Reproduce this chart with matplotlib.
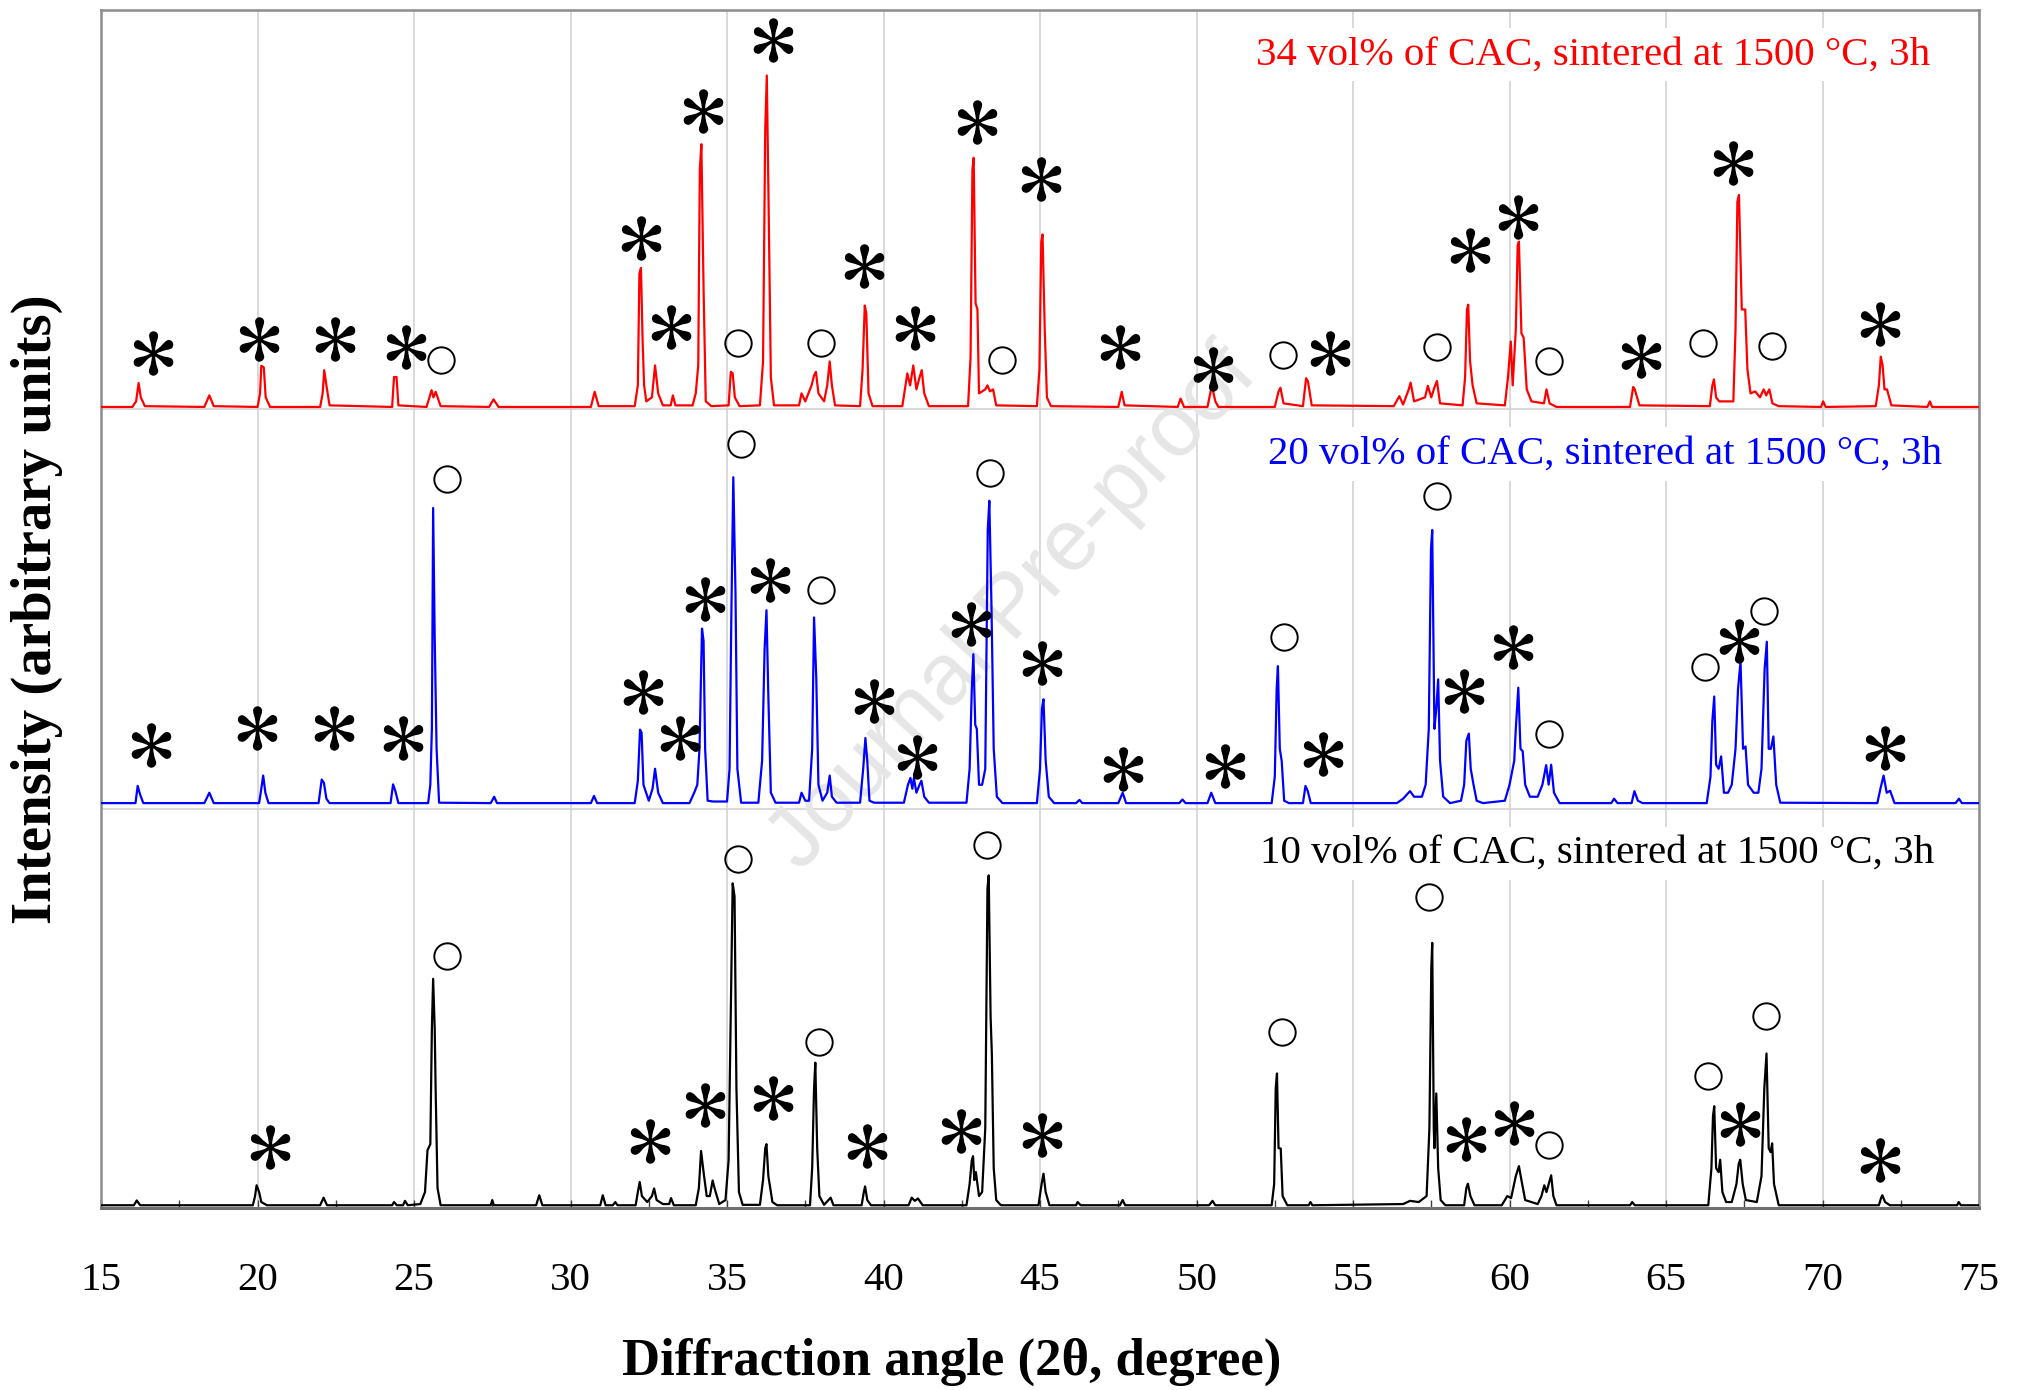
import numpy as np
import matplotlib
matplotlib.use('Agg')
import matplotlib.pyplot as plt

plt.rcParams['font.family'] = ['Liberation Serif', 'DejaVu Serif']
plt.rcParams['mathtext.fontset'] = 'stix'

# XRD patterns (2theta, intensity a.u.) — vertex lists for each sample
xrd_34 = np.array([
    (15.0, 6), (16.0, 6), (16.12, 20), (16.2, 66), (16.27, 30), (16.4, 8),
    (18.3, 6), (18.46, 35), (18.6, 8),
    (20.0, 6), (20.08, 40), (20.12, 109), (20.2, 105), (20.26, 30), (20.4, 6),
    (22.0, 6), (22.08, 40), (22.13, 98), (22.2, 60), (22.3, 10),
    (24.3, 6), (24.36, 81), (24.44, 81), (24.5, 10),
    (25.4, 6), (25.56, 48), (25.62, 30), (25.69, 44), (25.85, 8),
    (27.4, 6), (27.54, 25), (27.7, 6),
    (30.65, 6), (30.77, 44), (30.9, 8),
    (32.05, 8), (32.15, 60), (32.2, 340), (32.25, 354), (32.3, 178), (32.35, 60),
    (32.42, 20), (32.6, 30), (32.7, 110), (32.8, 40), (32.95, 10), (33.2, 10),
    (33.27, 35), (33.35, 10),
    (33.9, 10), (34.0, 40), (34.08, 110), (34.13, 600), (34.18, 664), (34.25, 300),
    (34.32, 20), (34.5, 8),
    (35.05, 10), (35.12, 94), (35.18, 90), (35.25, 30), (35.4, 8),
    (36.05, 10), (36.15, 120), (36.22, 700), (36.27, 836), (36.33, 500), (36.4, 80),
    (36.5, 10),
    (37.3, 10), (37.38, 40), (37.5, 20), (37.7, 60), (37.78, 85), (37.84, 94),
    (37.92, 40), (38.1, 20), (38.2, 60), (38.28, 120), (38.35, 60), (38.45, 10),
    (39.25, 8), (39.33, 100), (39.4, 260), (39.45, 240), (39.52, 40), (39.65, 8),
    (40.6, 8), (40.7, 60), (40.76, 90), (40.85, 60), (40.95, 110), (41.05, 50),
    (41.15, 80), (41.22, 98), (41.3, 40), (41.45, 8),
    (42.7, 8), (42.78, 130), (42.84, 600), (42.88, 630), (42.94, 266), (43.0, 250),
    (43.05, 40), (43.25, 50), (43.32, 60), (43.4, 45), (43.5, 50), (43.6, 10),
    (44.9, 8), (44.98, 100), (45.04, 420), (45.08, 438), (45.15, 200), (45.22, 30),
    (45.35, 8),
    (47.5, 6), (47.61, 44), (47.7, 10),
    (49.4, 6), (49.49, 27), (49.6, 6),
    (50.35, 6), (50.45, 45), (50.5, 56), (50.6, 20), (50.7, 6),
    (52.5, 6), (52.62, 45), (52.68, 54), (52.78, 15),
    (53.4, 8), (53.5, 78), (53.56, 70), (53.68, 10),
    (56.3, 8), (56.48, 33), (56.6, 12), (56.78, 50), (56.84, 67), (56.95, 20),
    (57.3, 30), (57.39, 59), (57.5, 30), (57.6, 55), (57.68, 71), (57.78, 15),
    (58.5, 10), (58.58, 80), (58.64, 250), (58.68, 262), (58.74, 120), (58.82, 60),
    (58.95, 15),
    (59.85, 10), (59.95, 80), (60.04, 170), (60.1, 60), (60.2, 200), (60.26, 410),
    (60.3, 420), (60.38, 190), (60.45, 180), (60.55, 50), (60.7, 20), (61.1, 15),
    (61.18, 50), (61.28, 15), (61.5, 6),
    (63.85, 6), (63.95, 56), (64.0, 50), (64.15, 10),
    (66.4, 8), (66.48, 60), (66.53, 75), (66.6, 30), (66.7, 20),
    (67.15, 20), (67.22, 200), (67.28, 520), (67.33, 537), (67.42, 250), (67.53, 250),
    (67.6, 100), (67.7, 40), (67.85, 45), (68.0, 30), (68.12, 50), (68.2, 35),
    (68.3, 50), (68.4, 15), (68.6, 8),
    (69.95, 6), (70.02, 20), (70.1, 6),
    (71.7, 8), (71.8, 60), (71.86, 132), (71.92, 110), (71.98, 50), (72.06, 50),
    (72.2, 10),
    (73.35, 6), (73.43, 20), (73.5, 6),
    (75.0, 6),
])

xrd_20 = np.array([
    (15.0, 14), (16.1, 14), (16.17, 57), (16.25, 35), (16.35, 14),
    (18.3, 14), (18.46, 40), (18.6, 14),
    (20.05, 14), (20.12, 50), (20.18, 83), (20.25, 40), (20.35, 14),
    (21.95, 14), (22.05, 73), (22.12, 65), (22.2, 25), (22.3, 14),
    (24.25, 14), (24.33, 61), (24.4, 45), (24.5, 14),
    (25.45, 14), (25.52, 60), (25.57, 200), (25.61, 753), (25.66, 430), (25.72, 150),
    (25.8, 15),
    (27.45, 14), (27.56, 30), (27.65, 14),
    (30.65, 14), (30.75, 32), (30.85, 14),
    (32.05, 14), (32.15, 70), (32.22, 198), (32.27, 190), (32.33, 60), (32.5, 20),
    (32.62, 50), (32.7, 100), (32.8, 40), (32.95, 14),
    (33.8, 14), (33.95, 40), (34.05, 60), (34.12, 150), (34.2, 451), (34.25, 420),
    (34.3, 150), (34.38, 20), (34.55, 18),
    (35.0, 18), (35.08, 100), (35.14, 500), (35.2, 830), (35.27, 540), (35.33, 100),
    (35.45, 15),
    (36.0, 15), (36.12, 120), (36.2, 400), (36.26, 497), (36.32, 280), (36.4, 40),
    (36.55, 15),
    (37.3, 15), (37.38, 40), (37.5, 20), (37.62, 20), (37.72, 150), (37.78, 479),
    (37.85, 330), (37.92, 60), (38.05, 20), (38.2, 40), (38.28, 83), (38.35, 30),
    (38.5, 15),
    (39.25, 15), (39.35, 100), (39.42, 177), (39.48, 120), (39.55, 20), (39.7, 15),
    (40.65, 15), (40.78, 60), (40.86, 77), (40.92, 50), (40.97, 77), (41.05, 40),
    (41.15, 60), (41.21, 70), (41.3, 30), (41.45, 15),
    (42.65, 15), (42.75, 100), (42.82, 300), (42.87, 387), (42.93, 210), (42.98, 200),
    (43.05, 60), (43.15, 60), (43.25, 100), (43.33, 700), (43.38, 771), (43.45, 500),
    (43.52, 150), (43.62, 30), (43.8, 14),
    (44.9, 14), (45.0, 100), (45.06, 250), (45.11, 274), (45.18, 120), (45.28, 30),
    (45.45, 14),
    (46.15, 14), (46.26, 22), (46.35, 14),
    (47.5, 14), (47.64, 40), (47.75, 14),
    (49.45, 14), (49.55, 23), (49.65, 14),
    (50.35, 14), (50.47, 40), (50.6, 14),
    (52.4, 14), (52.5, 80), (52.56, 300), (52.6, 357), (52.66, 150), (52.72, 120),
    (52.8, 20), (52.95, 14),
    (53.4, 14), (53.48, 57), (53.55, 45), (53.65, 14),
    (56.4, 14), (56.6, 25), (56.82, 44), (56.95, 30), (57.2, 30), (57.32, 60),
    (57.42, 200), (57.49, 650), (57.53, 698), (57.6, 200), (57.66, 250), (57.72, 324),
    (57.78, 120), (57.88, 30), (58.1, 14), (58.45, 20), (58.55, 60), (58.62, 170),
    (58.7, 188), (58.76, 100), (58.85, 60), (58.95, 20), (59.15, 14),
    (59.85, 20), (60.0, 60), (60.15, 120), (60.2, 200), (60.28, 303), (60.35, 150),
    (60.42, 144), (60.5, 60), (60.65, 30), (60.9, 30), (61.05, 60), (61.17, 109),
    (61.25, 60), (61.33, 110), (61.42, 40), (61.6, 14),
    (63.25, 14), (63.34, 25), (63.45, 14), (63.9, 14), (63.99, 44), (64.1, 20),
    (64.25, 14),
    (66.3, 14), (66.42, 80), (66.48, 220), (66.54, 281), (66.6, 110), (66.68, 100),
    (66.76, 131), (66.85, 40), (66.98, 40), (67.1, 60), (67.22, 150), (67.3, 300),
    (67.38, 368), (67.46, 150), (67.54, 156), (67.62, 60), (67.8, 40), (67.95, 40),
    (68.05, 100), (68.15, 350), (68.22, 418), (68.28, 150), (68.35, 150), (68.43, 181),
    (68.52, 60), (68.65, 15),
    (71.75, 14), (71.85, 50), (71.95, 83), (72.05, 40), (72.16, 45), (72.3, 14),
    (74.25, 14), (74.36, 25), (74.45, 14),
    (75.0, 14),
])

xrd_10 = np.array([
    (15.0, 7), (16.05, 7), (16.14, 19), (16.25, 7),
    (19.85, 7), (19.92, 30), (19.97, 57), (20.05, 40), (20.12, 15), (20.3, 7),
    (22.0, 7), (22.11, 26), (22.22, 7),
    (24.3, 7), (24.36, 15), (24.45, 7), (24.65, 7), (24.71, 18), (24.8, 7),
    (25.2, 10), (25.35, 40), (25.43, 145), (25.52, 160), (25.57, 450), (25.61, 574),
    (25.66, 450), (25.69, 295), (25.75, 50), (25.85, 7),
    (27.45, 7), (27.5, 20), (27.55, 7),
    (28.9, 7), (29.0, 32), (29.1, 7),
    (30.95, 7), (31.03, 32), (31.12, 7), (31.35, 7), (31.43, 15), (31.5, 7),
    (32.08, 7), (32.15, 40), (32.21, 65), (32.28, 30), (32.45, 15), (32.6, 30),
    (32.67, 49), (32.75, 20), (32.95, 10), (33.15, 10), (33.21, 25), (33.3, 7),
    (34.0, 7), (34.1, 50), (34.17, 143), (34.25, 90), (34.35, 30), (34.45, 30),
    (34.54, 69), (34.6, 50), (34.75, 10), (34.95, 20), (35.05, 120), (35.12, 500),
    (35.18, 813), (35.24, 780), (35.3, 300), (35.38, 40), (35.5, 8),
    (36.05, 8), (36.15, 70), (36.22, 150), (36.26, 160), (36.32, 80), (36.45, 15),
    (36.6, 7),
    (37.65, 7), (37.72, 100), (37.78, 300), (37.82, 364), (37.88, 150), (37.95, 30),
    (38.1, 8), (38.24, 20), (38.31, 26), (38.4, 7),
    (39.3, 7), (39.37, 40), (39.41, 54), (39.48, 20), (39.6, 7),
    (40.8, 7), (40.9, 26), (41.0, 18), (41.1, 24), (41.25, 7),
    (42.65, 7), (42.75, 60), (42.82, 120), (42.86, 130), (42.9, 70), (42.95, 90),
    (43.05, 30), (43.15, 40), (43.25, 200), (43.32, 800), (43.36, 833), (43.42, 480),
    (43.46, 387), (43.52, 100), (43.6, 20), (43.75, 7),
    (44.95, 7), (45.05, 60), (45.11, 86), (45.18, 40), (45.3, 7),
    (46.15, 7), (46.2, 15), (46.3, 7),
    (47.55, 7), (47.64, 20), (47.72, 7),
    (50.4, 7), (50.51, 18), (50.6, 7),
    (52.4, 7), (52.48, 60), (52.53, 300), (52.57, 337), (52.62, 150), (52.69, 149),
    (52.75, 30), (52.9, 7),
    (53.58, 7), (53.64, 15), (53.7, 7),
    (56.6, 10), (56.82, 18), (57.1, 15), (57.35, 30), (57.44, 200), (57.5, 600),
    (57.53, 664), (57.58, 200), (57.6, 150), (57.66, 287), (57.72, 100), (57.8, 20),
    (57.95, 7),
    (58.55, 7), (58.62, 50), (58.67, 61), (58.75, 30), (58.88, 7),
    (59.75, 7), (59.93, 30), (60.05, 25), (60.2, 80), (60.3, 105), (60.38, 70),
    (60.5, 20), (60.9, 10), (61.02, 30), (61.11, 57), (61.18, 40), (61.25, 60),
    (61.33, 82), (61.4, 30), (61.5, 7),
    (63.85, 7), (63.92, 15), (64.0, 7),
    (66.35, 7), (66.45, 100), (66.5, 230), (66.54, 255), (66.6, 100), (66.68, 90),
    (66.73, 121), (66.8, 40), (66.92, 15), (67.1, 15), (67.25, 60), (67.32, 110),
    (67.37, 121), (67.45, 60), (67.55, 20), (67.9, 15), (68.05, 80), (68.14, 300),
    (68.21, 387), (68.28, 150), (68.34, 140), (68.39, 162), (68.45, 60), (68.6, 7),
    (71.8, 7), (71.87, 25), (71.91, 32), (72.0, 15), (72.15, 7),
    (74.3, 7), (74.35, 15), (74.42, 7),
    (75.0, 7),
])

# phase marks: (2theta, height above the pattern's own baseline)
star_34 = [(16.65, 142), (20.04, 175), (22.47, 175), (24.74, 155), (32.25, 430),
           (33.2, 207), (34.23, 748), (36.46, 926), (39.39, 359), (41.0, 204),
           (42.98, 720), (45.04, 576), (47.56, 155), (50.53, 100), (54.25, 142),
           (58.75, 398), (60.27, 482), (64.2, 133), (67.13, 618), (71.83, 214)]
ring_34 = [(25.85, 123), (35.35, 165), (37.99, 165), (43.77, 123), (52.76, 136),
           (57.67, 155), (61.27, 120), (66.18, 165), (68.4, 159)]

star_20 = [(16.61, 159), (19.99, 201), (22.43, 201), (24.66, 178), (32.33, 291),
           (33.49, 178), (34.31, 524), (36.38, 573), (39.68, 269), (41.08, 129),
           (42.78, 463), (45.05, 366), (47.65, 100), (50.91, 107), (54.04, 136),
           (58.54, 294), (60.11, 405), (67.33, 421), (72.0, 152)]
ring_20 = [(26.06, 825), (35.43, 913), (37.99, 547), (43.39, 841), (52.8, 430),
           (57.67, 783), (61.27, 188), (66.26, 356), (68.12, 495)]

star_10 = [(20.41, 152), (32.54, 168), (34.31, 259), (36.46, 275), (39.47, 155),
           (42.49, 194), (45.05, 184), (58.62, 172), (60.15, 214), (67.37, 210),
           (71.83, 120)]
ring_10 = [(26.06, 631), (35.35, 874), (37.95, 417), (43.31, 909), (52.72, 440),
           (57.43, 780), (61.27, 159), (66.34, 330), (68.2, 482)]

labels = ['34 vol% of CAC, sintered at 1500 °C, 3h',
          '20 vol% of CAC, sintered at 1500 °C, 3h',
          '10 vol% of CAC, sintered at 1500 °C, 3h']
colors = ['#ff0000', '#0000ff', '#000000']
offsets = [2000, 1000, 0]
label_x = [73.44, 73.81, 73.56]
label_h = 888

fig = plt.figure(figsize=(20.25, 13.9), dpi=100)
ax = fig.add_axes([0.0499, 0.1309, 0.9274, 0.8619])

ax.text(44.17, 1500, 'Journal Pre-proof', rotation=47.3, ha='center', va='center',
        fontsize=63, color='#e6e6e6', family='Liberation Sans', zorder=1.5)

patterns = [xrd_34, xrd_20, xrd_10]
stars = [star_34, star_20, star_10]
rings = [ring_34, ring_20, ring_10]
for pat, st, rg, lab, col, off, lx in zip(patterns, stars, rings, labels,
                                         colors, offsets, label_x):
    ax.plot(pat[:, 0], pat[:, 1] + off, color=col, lw=1.6, zorder=3)
    st = np.array(st)
    rg = np.array(rg)
    ax.plot(st[:, 0], st[:, 1] + off, linestyle='none', marker='$*$', ms=31,
            color='black', zorder=4)
    ax.plot(rg[:, 0], rg[:, 1] + off, linestyle='none', marker='o', ms=19,
            mfc='none', mec='black', mew=1.4, zorder=4)
    ax.text(lx, off + label_h, lab, ha='right', va='center', color=col,
            fontsize=29.5, zorder=2.5,
            bbox=dict(facecolor='white', edgecolor='none', pad=6))

ax.set_xlim(15, 75)
ax.set_ylim(0, 3000)
ax.set_xticks(np.arange(15, 76, 5))
ax.set_xticks(np.arange(15, 76, 2.5), minor=True)
ax.set_yticks([0, 1000, 2000, 3000])
ax.set_yticklabels([])
ax.tick_params(axis='y', length=0)
ax.tick_params(axis='x', which='both', direction='in', length=6, width=1,
               color='#404040', labelsize=29.5, pad=39)
ax.grid(True, which='major', color='#d0d0d0', lw=1.1, zorder=0)
ax.set_axisbelow(True)

for side in ['left', 'top', 'right']:
    ax.spines[side].set_color('#8c8c8c')
    ax.spines[side].set_linewidth(1.8)
ax.spines['bottom'].set_color('#707070')
ax.spines['bottom'].set_linewidth(2.2)

ax.set_xlabel('Diffraction angle (2θ, degree)', fontsize=38, fontweight='bold')
ax.xaxis.set_label_coords(0.453, -0.108)
ax.set_ylabel('Intensity (arbitrary units)', fontsize=41, fontweight='bold',
              va='center')
ax.yaxis.set_label_coords(-0.034, 0.5)

fig.savefig('out.png', dpi=100, facecolor='white')
